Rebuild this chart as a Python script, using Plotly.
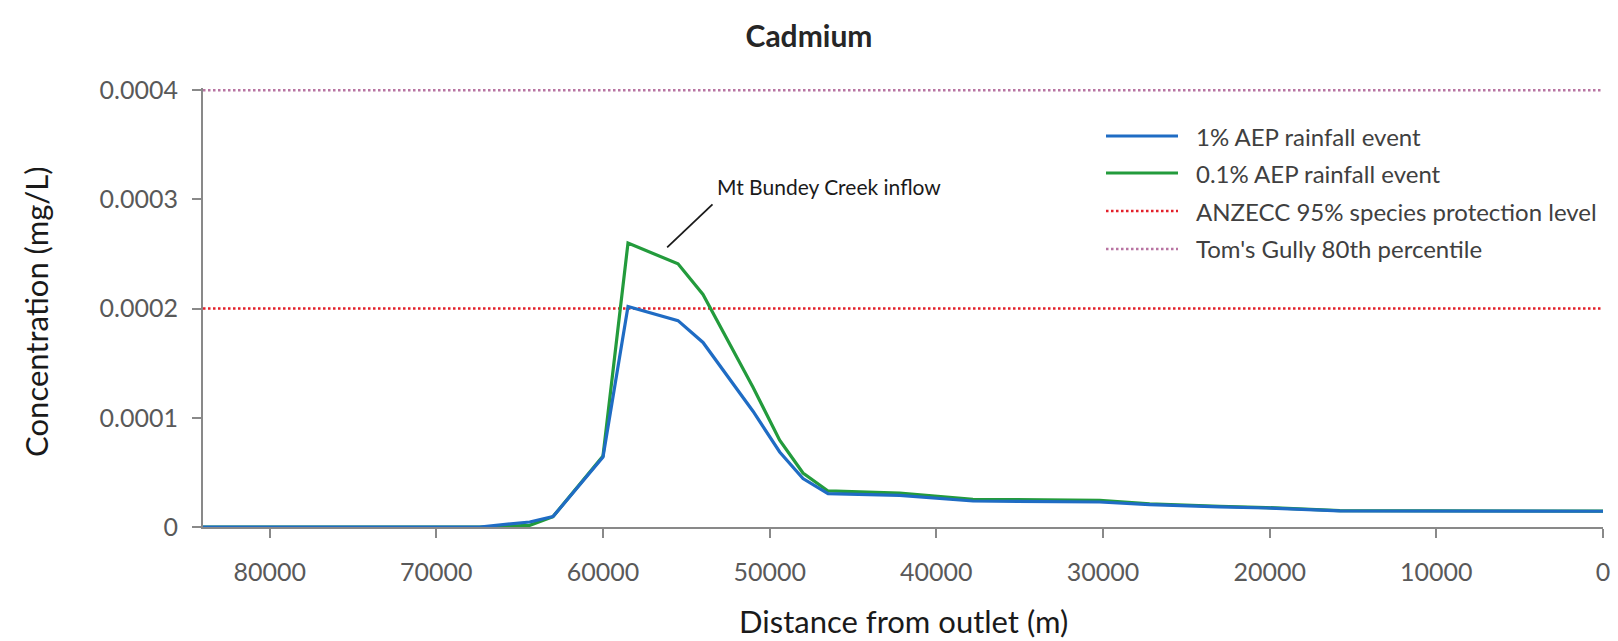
import plotly.graph_objects as go

# ---- data ----
distance = [84000, 80000, 75000, 70000, 67400, 64400, 63000, 60000, 58500, 55500,
            54000, 51000, 49400, 48000, 46500, 42200, 37800, 30200, 27200, 23000,
            20200, 15800, 0]
aep_1 = [0, 0, 0, 0, 0, 0.0000046, 0.0000095, 0.000064, 0.000202, 0.000189,
         0.000169, 0.000106, 0.0000687, 0.0000443, 0.0000306, 0.000029, 0.0000238,
         0.0000229, 0.0000205, 0.0000185, 0.0000174, 0.0000148, 0.0000144]
aep_01 = [0, 0, 0, 0, 0, 0.0000015, 0.0000095, 0.000065, 0.00026, 0.000241,
          0.000213, 0.000128, 0.0000794, 0.0000494, 0.000033, 0.000031, 0.0000253,
          0.0000244, 0.0000212, 0.000019, 0.0000178, 0.000015, 0.0000145]
anzecc_level = 0.0002
toms_gully_level = 0.0004
line_extent = [84000, 0]

series_names = ["1% AEP rainfall event", "0.1% AEP rainfall event",
                "ANZECC 95% species protection level", "Tom's Gully 80th percentile"]
x_tickvals = [80000, 70000, 60000, 50000, 40000, 30000, 20000, 10000, 0]
x_ticktext = ["80000", "70000", "60000", "50000", "40000", "30000", "20000", "10000", "0"]
y_tickvals = [0, 0.0001, 0.0002, 0.0003, 0.0004]
y_ticktext = ["0", "0.0001", "0.0002", "0.0003", "0.0004"]

# ---- styles ----
BLUE = "#1f6cc4"
GREEN = "#239b3c"
RED = "#e3202a"
PINK = "#b874a2"
AXIS = "#898989"
FONT = "Lato"

W, H = 1618, 641
ML, MR, MT, MB = 203, 15, 88, 114

fig = go.Figure()

fig.add_trace(go.Scatter(x=line_extent, y=[toms_gully_level] * 2, mode="lines",
                         line=dict(color=PINK, width=2.5, dash="2.5px,2.5px"),
                         name=series_names[3], showlegend=False, hoverinfo="skip"))
fig.add_trace(go.Scatter(x=line_extent, y=[anzecc_level] * 2, mode="lines",
                         line=dict(color=RED, width=2.5, dash="2.5px,2.5px"),
                         name=series_names[2], showlegend=False, hoverinfo="skip"))
fig.add_trace(go.Scatter(x=distance, y=aep_01, mode="lines",
                         line=dict(color=GREEN, width=3.2), name=series_names[1],
                         showlegend=False))
fig.add_trace(go.Scatter(x=distance, y=aep_1, mode="lines",
                         line=dict(color=BLUE, width=3.2), name=series_names[0],
                         showlegend=False))

# ---- manual legend ----
plot_w = W - ML - MR
plot_h = H - MT - MB
def px_x(p):
    return (p - ML) / plot_w
def px_y(p):
    return (H - MB - p) / plot_h

legend_styles = [dict(color=BLUE, width=3.2), dict(color=GREEN, width=3.2),
                 dict(color=RED, width=2.5, dash="2.5px,2.5px"),
                 dict(color=PINK, width=2.5, dash="2.5px,2.5px")]
rows = [136, 173, 211, 249]
shapes = []
annotations = []
for name, st, ry in zip(series_names, legend_styles, rows):
    shapes.append(dict(type="line", xref="paper", yref="paper",
                       x0=px_x(1106), x1=px_x(1178), y0=px_y(ry), y1=px_y(ry),
                       line=st))
    annotations.append(dict(text=name, xref="paper", yref="paper",
                            x=px_x(1194), y=px_y(ry), xanchor="left", yanchor="middle",
                            showarrow=False, font=dict(family=FONT, size=24, color="#404040")))

# leader line + label for the inflow annotation
shapes.append(dict(type="line", xref="x", yref="y", x0=56150, y0=0.000256,
                   x1=53430, y1=0.0002955, line=dict(color="#1a1a1a", width=1.8)))
annotations.append(dict(text="Mt Bundey Creek inflow", xref="x", yref="y",
                        x=53300, y=0.000312, xanchor="left", yanchor="middle",
                        showarrow=False, font=dict(family=FONT, size=21, color="#1a1a1a")))

# axis titles
annotations.append(dict(text="Distance from outlet (m)", xref="paper", yref="paper",
                        x=0.5, y=px_y(621), xanchor="center", yanchor="middle",
                        showarrow=False, font=dict(family=FONT, size=31, color="#1a1a1a")))
annotations.append(dict(text="Concentration (mg/L)", xref="paper", yref="paper",
                        x=px_x(36), y=0.49, xanchor="center", yanchor="middle",
                        textangle=-90, showarrow=False,
                        font=dict(family=FONT, size=31, color="#1a1a1a")))

fig.update_layout(
    width=W, height=H,
    margin=dict(l=ML, r=MR, t=MT, b=MB, autoexpand=False),
    paper_bgcolor="white", plot_bgcolor="white",
    font=dict(family=FONT, color="#595959"),
    title=dict(text="<b>Cadmium</b>", x=0.5, xref="container", y=1 - 36 / H,
               yanchor="middle", xanchor="center",
               font=dict(family=FONT, size=30, color="#262626")),
    shapes=shapes,
    annotations=annotations,
    showlegend=False,
)

fig.update_xaxes(range=[84000, 0], tickvals=x_tickvals, ticktext=x_ticktext,
                 showline=True, linecolor=AXIS, linewidth=2, ticks="outside",
                 ticklen=9, tickwidth=2, tickcolor=AXIS, showgrid=False,
                 zeroline=False, layer="below traces", ticklabelstandoff=13,
                 tickfont=dict(family=FONT, size=25, color="#595959"))
fig.update_yaxes(range=[0, 0.000402], tickvals=y_tickvals, ticktext=y_ticktext,
                 showline=True, linecolor=AXIS, linewidth=2, ticks="outside",
                 ticklen=9, tickwidth=2, tickcolor=AXIS, showgrid=False,
                 zeroline=False, layer="below traces", ticklabelstandoff=9,
                 tickfont=dict(family=FONT, size=25, color="#595959"))

fig.write_html("out.html", config={"displayModeBar": False},
               post_script="document.body.style.margin='0';document.body.style.overflow='hidden';")
